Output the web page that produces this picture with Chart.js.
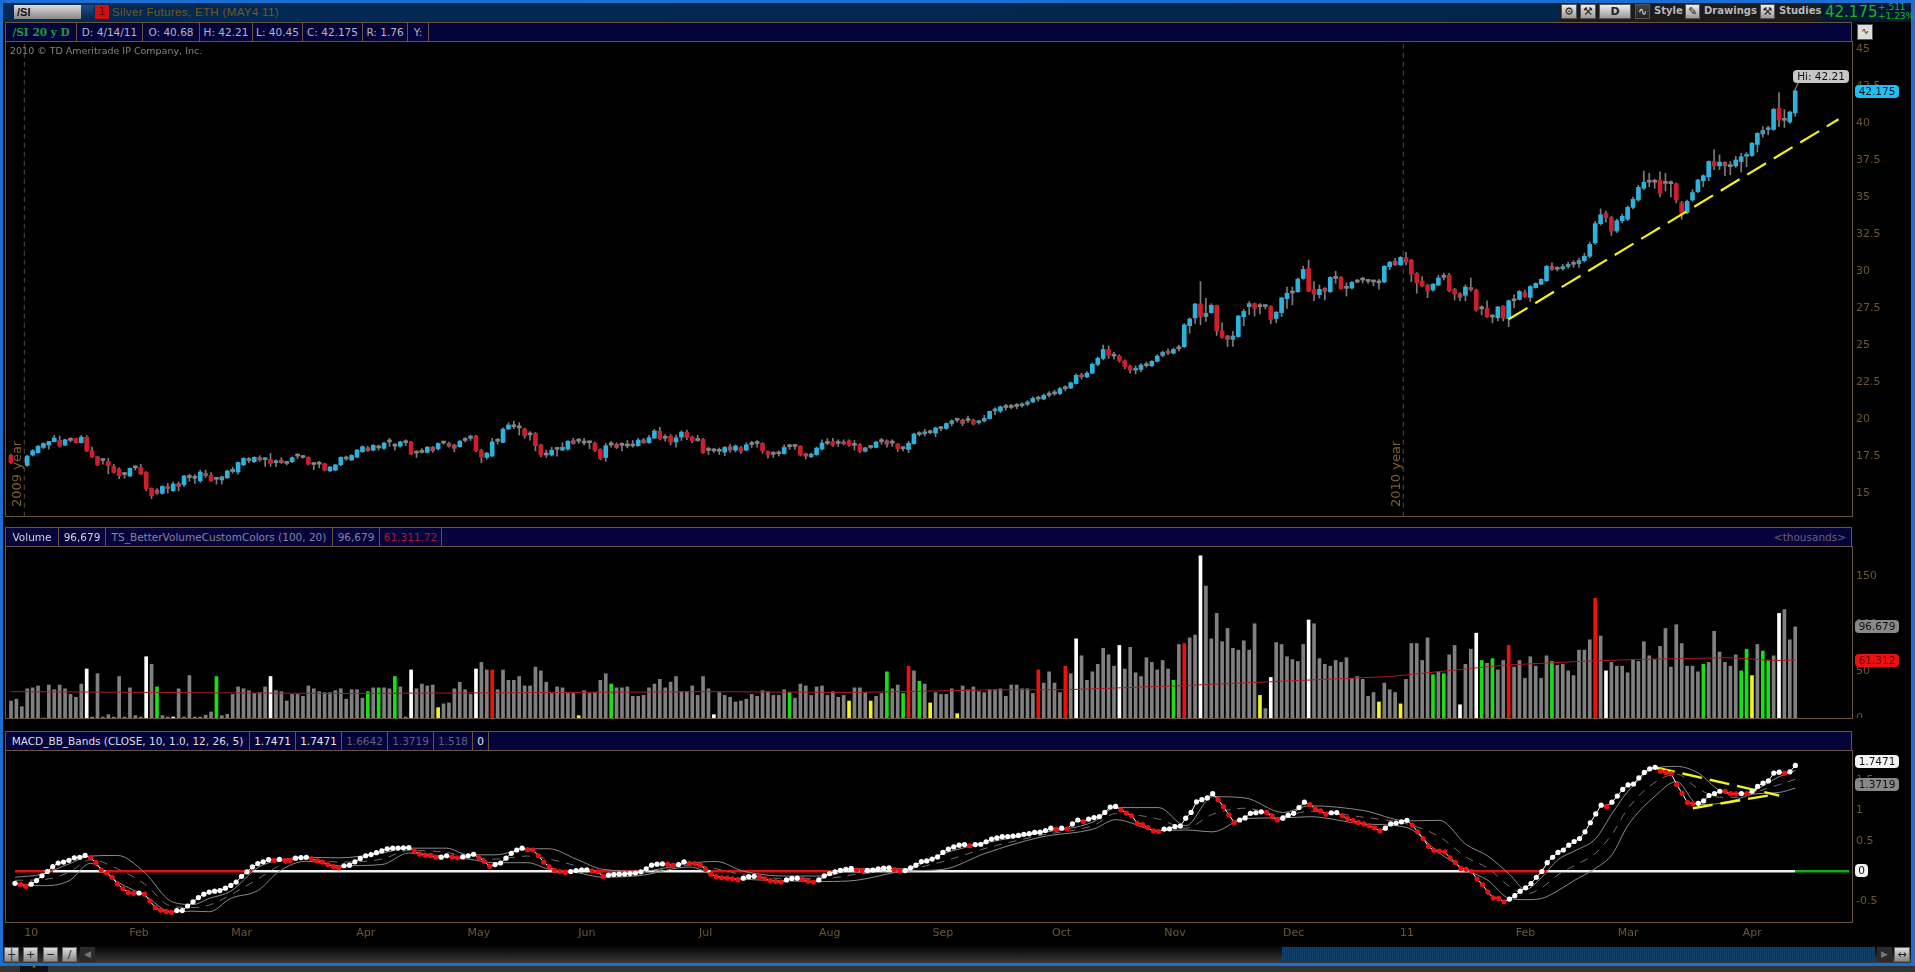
<!DOCTYPE html>
<html>
<head>
<meta charset="utf-8">
<title>/SI 20 y D</title>
<script src="https://cdn.jsdelivr.net/npm/chart.js@4/dist/chart.umd.min.js"></script>
<style>
html,body{margin:0;padding:0;background:#000;width:1915px;height:972px;overflow:hidden;font-family:"DejaVu Sans",sans-serif}
.abs{position:absolute}
canvas{position:absolute;display:block}
.frame{position:absolute;box-sizing:border-box;border:1px solid #6a5440;pointer-events:none}
.hdr{position:absolute;left:5px;width:1847px;height:20px;box-sizing:border-box;background:#04043a;border:1px solid #6a5440;display:flex;font-size:10.5px;line-height:18px;color:#b4b4c4;white-space:nowrap}
.hdr span{display:block;box-sizing:border-box;height:18px;border-right:1px solid #6a5440;text-align:center;overflow:hidden}
.bub{position:absolute;height:13px;line-height:13px;border-radius:4px;font-size:10.5px;text-align:center;color:#111}
.tb{position:absolute;top:4px;height:15px;box-sizing:border-box;border:1px solid #555;background:linear-gradient(#eee,#999);color:#222;text-align:center;font-size:11px;line-height:13px}
.tt{position:absolute;top:4px;font-size:10px;font-weight:bold;color:#b8b8b8;line-height:14px}
.bb{position:absolute;top:947px;width:15px;height:15px;box-sizing:border-box;border:1px solid #666;background:linear-gradient(#ddd,#888);color:#222;font-size:11px;line-height:13px;text-align:center}
</style>
</head>
<body>
<!-- window frame -->
<div class="abs" style="left:0;top:0;width:1915px;height:3px;background:#1b6fd2"></div>
<div class="abs" style="left:0;top:0;width:3px;height:966px;background:#1b6fd2"></div>
<div class="abs" style="left:1911px;top:0;width:4px;height:966px;background:#1b6fd2"></div>
<div class="abs" style="left:3px;top:3px;width:1908px;height:19px;background:linear-gradient(90deg,#032a55,#03254a 80%,#02172e)"></div>

<!-- top bar -->
<div class="abs" style="left:14px;top:5px;width:67px;height:14px;background:linear-gradient(#ddd,#888);color:#111;font:bold 11px/14px 'Liberation Sans';padding-left:3px;box-sizing:border-box">/SI</div>
<div class="abs" style="left:81px;top:5px;width:13px;height:14px;background:linear-gradient(#1a4f90,#0a2448)"></div>
<div class="abs" style="left:95px;top:5px;width:14px;height:14px;background:#d01010;color:#600;font:11px/14px 'DejaVu Sans';text-align:center">1</div>
<div class="abs" style="left:112px;top:5px;color:#6e5a20;font:11.5px/15px 'Liberation Sans';letter-spacing:.35px">Silver Futures, ETH (MAY4 11)</div>

<div class="abs" style="left:1559px;top:3px;width:262px;height:18px;background:#1c1c1e"></div>
<div class="tb" style="left:1561px;width:16px">&#9881;</div>
<div class="tb" style="left:1580px;width:16px">&#9874;</div>
<div class="tb" style="left:1599px;width:32px;font-weight:bold">D</div>
<div class="tb" style="left:1635px;width:15px;background:linear-gradient(#444,#222);color:#ddd">&#8767;</div>
<div class="tt" style="left:1654px">Style</div>
<div class="tb" style="left:1685px;width:15px">&#9998;</div>
<div class="tt" style="left:1704px">Drawings</div>
<div class="tb" style="left:1760px;width:15px">&#9874;</div>
<div class="tt" style="left:1779px">Studies</div>
<div class="abs" style="left:1825px;top:3px;color:#1fb32a;font:15px/18px 'DejaVu Sans'">42.175</div>
<div class="abs" style="left:1878px;top:3px;color:#1fb32a;font:9px/9px 'DejaVu Sans'">+.511<br>+1.23%</div>
<div class="tb" style="left:1857px;top:24px;width:16px;height:16px;background:#ddd;font-size:9px">&#8767;</div>

<!-- price panel -->
<div class="hdr" style="top:22px">
  <span style="width:71px;color:#1f9a3c;font:bold 10.5px/18px 'DejaVu Serif'">/SI 20 y D</span>
  <span style="width:66px">D: 4/14/11</span>
  <span style="width:57px">O: 40.68</span>
  <span style="width:53px">H: 42.21</span>
  <span style="width:50px">L: 40.45</span>
  <span style="width:60px">C: 42.175</span>
  <span style="width:45px">R: 1.76</span>
  <span style="width:21px">Y:</span>
</div>
<div class="frame" style="left:5px;top:41px;width:1848px;height:476px"></div>
<canvas id="priceChart" width="1902" height="475" style="left:5px;top:41px"></canvas>
<div class="abs" style="left:10px;top:44px;color:#848484;font-size:9.5px;line-height:13px">2010 &copy; TD Ameritrade IP Company, Inc.</div>
<div class="abs" style="left:17px;top:475px;color:#7d5e30;font-size:13px;line-height:14px;width:64px;text-align:center;transform:translate(-50%,-50%) rotate(-90deg);white-space:nowrap">2009 year</div>
<div class="abs" style="left:1396px;top:475px;color:#7d5e30;font-size:13px;line-height:14px;width:64px;text-align:center;transform:translate(-50%,-50%) rotate(-90deg);white-space:nowrap">2010 year</div>
<div class="bub" style="left:1793px;top:70px;width:56px;background:#c6c6c6">Hi: 42.21</div>
<div class="abs" style="left:1796px;top:82px;width:1px;height:9px;background:#999;transform:rotate(25deg)"></div>
<div class="bub" style="left:1855px;top:85px;width:44px;background:#1cc0f4">42.175</div>

<!-- volume panel -->
<div class="hdr" style="top:527px">
  <span style="width:53px;color:#d4d4dc">Volume</span>
  <span style="width:47px;color:#d4d4dc">96,679</span>
  <span style="width:227px;color:#85859a">TS_BetterVolumeCustomColors (100, 20)</span>
  <span style="width:47px;color:#85859a">96,679</span>
  <span style="width:62px;color:#b01826">61,311.72</span>
  <em style="margin-left:auto;margin-right:5px;font-style:normal;color:#6e6070">&lt;thousands&gt;</em>
</div>
<div class="frame" style="left:5px;top:546px;width:1848px;height:173px"></div>
<canvas id="volumeChart" width="1902" height="172" style="left:5px;top:546px"></canvas>
<div class="bub" style="left:1855px;top:620px;width:44px;background:#888">96.679</div>
<div class="bub" style="left:1855px;top:654px;width:44px;background:#ee1010;color:#600">61.312</div>

<!-- MACD panel -->
<div class="hdr" style="top:731px">
  <span style="width:244px;color:#dcdce4">MACD_BB_Bands (CLOSE, 10, 1.0, 12, 26, 5)</span>
  <span style="width:46px;color:#e8e8e8">1.7471</span>
  <span style="width:46px;color:#e8e8e8">1.7471</span>
  <span style="width:46px;color:#5f5f80">1.6642</span>
  <span style="width:46px;color:#5f5f80">1.3719</span>
  <span style="width:39px;color:#5f5f80">1.518</span>
  <span style="width:16px;color:#e8e8e8">0</span>
</div>
<div class="frame" style="left:5px;top:750px;width:1848px;height:173px"></div>
<canvas id="macdChart" width="1902" height="195" style="left:5px;top:750px"></canvas>
<div class="bub" style="left:1855px;top:755px;width:44px;background:#f4f4f4">1.7471</div>
<div class="bub" style="left:1855px;top:778px;width:44px;background:#888">1.3719</div>
<div class="bub" style="left:1855px;top:864px;width:13px;background:#f4f4f4">0</div>

<!-- bottom bar -->
<div class="abs" style="left:3px;top:945px;width:1908px;height:18px;background:linear-gradient(#000,#3a3a3a)"></div>
<div class="abs" style="left:0;top:963px;width:1915px;height:3px;background:#1b6fd2"></div>
<div class="abs" style="left:0;top:966px;width:1915px;height:6px;background:#333"></div>
<div class="abs" style="left:20px;top:966px;width:28px;height:6px;background:#111;color:#d8c030;font:7px/6px 'DejaVu Sans';text-align:center">&#8963;</div>
<div class="bb" style="left:4px">&#9532;</div>
<div class="bb" style="left:23px">+</div>
<div class="bb" style="left:43px">&minus;</div>
<div class="bb" style="left:62px">&#8725;</div>
<div class="abs" style="left:80px;top:947px;width:15px;height:15px;background:#2a2a2a;color:#777;font:9px/15px 'DejaVu Sans';text-align:center">&#9664;</div>
<div class="abs" style="left:1282px;top:947px;width:593px;height:15px;background:repeating-linear-gradient(90deg,#14426c 0 1px,#0e3357 1px 2px)"></div>
<div class="abs" style="left:1877px;top:947px;width:15px;height:15px;background:#2a2a2a;color:#777;font:9px/15px 'DejaVu Sans';text-align:center">&#9654;</div>
<div class="bb" style="left:1894px;width:16px">&#8596;</div>

<script>
// price candles, one per trading day, null where no bar shows
const opens = [
17.55,null,null,16.87,17.57,17.73,18.08,18.24,18.47,18.56,
18.24,18.56,18.69,18.4,18.78,17.86,17.45,17.25,17.14,16.8,
16.62,16.3,16.15,16.7,16.73,16.4,15.32,15.2,14.98,15.42,
15.16,15.63,15.56,16.1,16.05,15.83,16.33,16.2,15.98,15.88,
16.04,16.45,16.42,16.91,17.2,17.12,17.41,17.25,17.27,17.05,
17.23,17.05,17.12,17.5,17.4,17.41,16.98,16.95,16.98,16.5,
16.55,16.91,17.3,17.23,17.43,17.79,18.06,17.9,18.05,18.02,
18.45,18.2,18.17,18.45,18.45,17.75,17.75,17.75,18.1,17.99,
18.38,18.35,18.24,18.13,18.55,18.7,18.85,17.86,17.41,17.5,
18.5,18.42,19.33,19.48,19.45,19.32,19.0,19.03,18.27,17.62,
17.57,17.95,17.9,17.97,18.55,18.5,18.42,18.4,18.38,17.95,
17.4,18.25,18.3,18.22,18.25,18.18,18.2,18.6,18.4,18.72,
19.19,18.75,18.85,18.45,18.78,19.1,18.78,18.62,18.62,17.95,
17.85,17.87,17.77,18.13,17.9,18.08,17.9,18.33,18.35,18.36,
17.82,17.68,17.65,17.66,18.13,18.15,18.17,17.66,17.45,17.59,
17.97,18.42,18.47,18.35,18.45,18.53,18.28,18.3,17.82,18.08,
18.08,18.52,18.53,18.42,18.3,18.05,17.95,18.33,18.95,19.0,
19.08,19.05,19.35,19.37,19.7,19.92,19.93,19.9,19.93,19.75,
19.87,20.03,20.55,20.54,20.78,20.78,20.85,20.9,21.0,21.15,
21.4,21.35,21.6,21.75,21.72,22.05,22.1,22.4,22.95,22.85,
23.1,23.7,24.1,24.7,24.3,24.25,23.95,23.55,23.3,23.35,
23.65,23.6,23.9,24.3,24.55,24.45,24.75,24.89,26.31,26.84,
27.77,26.92,27.19,27.68,25.96,25.61,25.38,25.57,26.91,27.59,
27.8,27.63,27.6,27.6,26.79,27.19,28.13,28.51,28.6,29.5,
30.18,28.76,28.4,28.83,28.6,29.57,29.59,28.87,28.85,29.25,
29.44,29.3,29.3,29.25,29.26,30.29,30.65,30.42,30.92,30.74,
29.84,29.32,29.05,28.72,29.05,29.57,29.72,28.76,28.45,28.36,
28.89,28.71,27.49,27.47,26.94,26.84,27.62,26.78,27.99,28.08,
28.54,28.22,28.88,29.11,29.34,30.32,30.12,30.15,30.3,30.45,
30.5,30.7,31.0,31.9,33.2,33.9,33.6,32.7,33.4,33.5,
34.3,34.8,35.6,36.0,36.05,36.15,35.92,35.95,35.9,34.6,
33.95,34.8,35.36,36.1,36.37,37.4,37.1,37.34,37.05,37.1,
37.4,37.75,37.8,38.55,39.26,39.55,39.57,41.0,40.25,40.07,
40.68];
const closes = [
17.05,null,null,17.5,17.86,18.17,18.35,18.49,18.72,18.17,
18.6,18.63,18.4,18.78,17.84,17.43,16.91,17.2,16.85,16.4,
16.17,16.25,16.67,16.72,16.3,15.29,14.82,14.98,15.45,15.3,
15.61,15.45,16.15,16.05,16.0,16.42,16.17,15.83,15.93,16.1,
16.49,16.6,17.07,17.34,17.25,17.41,17.23,17.35,17.0,17.15,
17.05,17.0,17.39,17.55,17.45,16.96,16.93,17.0,16.55,16.76,
16.9,17.41,17.35,17.54,17.9,18.13,17.86,18.22,18.13,18.38,
18.5,18.17,18.45,18.4,17.63,17.7,17.82,18.1,17.86,18.35,
18.42,18.17,18.02,18.51,18.62,18.85,17.86,17.43,17.7,18.45,
18.55,19.32,19.6,19.53,19.4,18.87,18.93,18.2,17.57,17.57,
17.9,18.0,18.1,18.5,18.35,18.58,18.38,18.45,17.9,17.35,
18.2,18.3,18.08,18.27,18.18,18.2,18.58,18.4,18.74,19.19,
18.67,18.7,18.45,18.74,19.12,18.74,18.52,18.55,17.72,17.88,
17.9,17.82,18.08,17.9,18.18,17.82,18.26,18.28,18.4,17.86,
17.57,17.62,17.68,18.08,18.18,18.2,17.57,17.49,17.63,18.04,
18.38,18.35,18.22,18.4,18.33,18.22,18.22,17.82,18.06,18.13,
18.45,18.47,18.31,18.37,18.0,18.0,18.36,18.99,18.99,19.1,
19.13,19.4,19.4,19.7,19.88,19.97,19.7,19.94,19.66,19.85,
20.05,20.52,20.65,20.83,20.83,20.83,20.9,21.0,21.15,21.4,
21.35,21.6,21.75,21.7,22.05,22.1,22.45,22.95,22.85,23.1,
23.7,24.1,24.7,24.3,24.25,23.95,23.55,23.3,23.4,23.65,
23.6,23.9,24.25,24.5,24.45,24.7,24.8,26.36,26.76,27.77,
26.92,27.15,27.68,25.96,25.52,25.38,25.61,26.96,27.27,27.8,
27.48,27.59,27.63,26.73,27.22,28.18,28.5,28.6,29.45,30.11,
28.64,28.45,28.76,28.64,29.57,29.5,28.8,28.83,29.23,29.34,
29.39,29.34,29.26,29.2,30.32,30.6,30.42,30.92,30.6,29.8,
29.2,28.99,28.64,29.11,29.53,29.65,28.67,28.45,28.22,28.92,
28.73,27.36,27.45,26.91,26.89,27.57,26.82,27.99,28.06,28.62,
28.27,28.95,29.16,29.44,30.32,30.11,30.17,30.3,30.45,30.5,
30.7,31.0,31.8,33.2,33.8,33.6,32.7,33.4,33.7,34.3,
34.85,35.65,36.0,36.08,36.0,35.25,35.97,35.9,34.8,33.9,
34.7,35.3,36.15,36.44,37.4,37.1,37.36,37.1,37.12,37.5,
37.72,37.85,38.63,39.3,39.5,39.65,40.92,40.2,40.18,40.74,
42.175];
const highs = [
17.6,null,null,17.55,17.95,18.2,18.4,18.5,18.9,18.85,
18.65,18.75,18.72,18.9,18.88,18.1,17.5,17.3,17.35,16.95,
16.7,16.4,16.7,16.85,16.95,16.45,15.35,15.3,15.5,15.65,
15.75,15.75,16.2,16.28,16.25,16.55,16.55,16.38,16.05,16.15,
16.55,16.75,17.1,17.4,17.4,17.45,17.52,17.4,17.68,17.25,
17.4,17.15,17.45,17.65,17.55,17.45,17.05,17.15,17.02,16.8,
16.95,17.45,17.5,17.6,17.95,18.2,18.15,18.28,18.25,18.45,
18.7,18.35,18.5,18.6,18.5,17.85,18.0,18.15,18.15,18.4,
18.5,18.45,18.3,18.55,18.75,18.92,18.9,17.95,17.75,18.7,
18.7,19.4,19.75,19.85,19.75,19.4,19.15,19.1,18.3,17.9,
18.1,18.05,18.4,18.55,18.7,18.7,18.7,18.5,18.45,18.0,
18.35,18.5,18.4,18.4,18.55,18.55,18.7,18.7,18.9,19.3,
19.45,18.95,18.95,18.92,19.2,19.25,18.85,18.9,18.7,18.1,
18.0,18.05,18.15,18.3,18.25,18.15,18.4,18.5,18.55,18.4,
17.85,17.8,17.85,18.25,18.3,18.3,18.2,17.7,17.7,18.1,
18.6,18.68,18.7,18.6,18.6,18.6,18.55,18.35,18.1,18.2,
18.5,18.7,18.6,18.6,18.35,18.1,18.5,19.05,19.15,19.3,
19.25,19.45,19.5,19.75,19.95,20.05,20.0,20.2,20.0,19.9,
20.25,20.55,20.75,20.88,21.0,21.0,21.05,21.1,21.25,21.5,
21.55,21.7,21.85,21.95,22.15,22.25,22.5,23.05,23.1,23.2,
23.8,24.2,25.0,24.95,24.5,24.35,24.0,23.65,23.6,23.75,
23.85,23.95,24.35,24.6,24.75,24.8,25.0,26.45,26.83,27.81,
29.29,28.16,27.8,27.7,26.5,25.66,25.93,27.0,27.41,27.94,
27.84,27.8,27.7,27.65,27.26,28.23,28.92,28.92,29.53,30.33,
30.74,29.28,29.06,28.88,29.62,29.99,29.62,29.2,29.3,29.44,
29.58,29.44,29.39,29.44,30.37,30.65,30.85,30.98,31.26,30.79,
29.9,29.62,29.11,29.16,29.72,29.85,29.85,28.83,28.55,29.06,
29.53,28.78,27.66,27.99,27.05,27.62,27.66,28.04,28.41,28.69,
28.72,29.02,29.21,29.49,30.37,30.55,30.28,30.45,30.6,30.7,
30.85,31.2,31.95,33.35,34.2,34.05,33.7,33.5,33.85,34.4,
35.0,35.8,36.75,36.6,36.2,36.7,36.6,36.1,35.95,34.7,
34.8,35.5,36.2,36.5,37.45,38.2,37.85,37.4,37.4,37.75,
37.95,38.0,38.7,39.35,39.75,39.78,41.0,42.05,40.9,40.8,
42.21];
const lows = [
17.0,null,null,16.8,17.5,17.7,18.0,17.97,18.45,18.1,
18.2,18.45,18.38,18.38,17.8,17.4,16.85,16.95,16.3,16.35,
15.97,16.0,16.1,16.55,16.25,15.15,14.62,14.9,14.92,15.0,
15.1,15.15,15.43,15.8,15.65,15.72,16.05,15.78,15.6,15.6,
15.97,16.35,16.28,16.85,17.05,17.05,17.15,16.8,16.8,16.78,
17.0,16.9,17.05,17.33,17.35,16.9,16.58,16.7,16.5,16.45,
16.5,16.85,17.2,17.2,17.38,17.75,17.82,17.85,17.9,17.95,
18.15,17.9,18.1,18.2,17.6,17.4,17.7,17.7,17.75,17.9,
18.3,18.1,17.8,18.1,18.45,18.55,17.8,17.05,17.28,17.45,
18.3,18.4,19.3,19.35,18.92,18.7,18.58,17.85,17.45,17.4,
17.5,17.5,17.85,17.9,18.3,18.35,18.25,18.0,17.8,17.25,
17.15,18.1,18.0,17.85,18.05,18.1,18.15,18.35,18.35,18.65,
18.6,18.5,18.25,18.1,18.55,18.6,18.4,18.5,17.68,17.6,
17.75,17.6,17.52,17.75,17.78,17.68,17.85,18.08,18.1,17.68,
17.35,17.4,17.5,17.62,17.95,17.95,17.5,17.3,17.4,17.55,
17.9,18.25,18.15,18.15,18.25,18.15,17.9,17.72,17.78,18.0,
18.05,18.3,18.1,18.15,17.8,17.85,17.72,18.3,18.85,18.85,
19.0,18.8,19.2,19.3,19.55,19.8,19.55,19.75,19.6,19.65,
19.8,20.0,20.3,20.42,20.6,20.7,20.7,20.8,20.9,21.1,
21.2,21.3,21.5,21.6,21.65,21.9,22.05,22.35,22.7,22.8,
23.05,23.6,24.0,24.1,24.05,23.85,23.4,23.1,23.05,23.2,
23.5,23.55,23.85,24.2,24.35,24.4,24.6,24.82,25.8,26.46,
26.36,26.59,27.15,25.65,25.47,24.9,24.9,25.52,26.31,27.05,
26.96,27.1,27.43,26.45,26.5,26.92,27.47,27.71,28.55,29.44,
28.59,27.99,28.17,28.04,28.55,29.17,28.78,28.31,28.78,29.2,
29.18,29.16,29.0,28.78,29.2,30.09,30.37,30.37,30.42,29.27,
28.5,28.92,28.2,28.64,29.0,29.39,28.59,28.04,27.99,27.99,
28.64,27.29,27.03,26.86,26.5,26.63,26.63,26.24,27.53,28.04,
28.22,27.94,28.84,29.07,29.3,30.04,30.0,30.05,30.2,30.25,
30.25,30.6,30.9,31.8,33.1,33.3,32.4,32.6,33.25,33.4,
34.2,34.7,35.5,35.7,35.6,35.0,35.4,35.0,34.6,33.5,
33.85,34.7,35.3,35.7,36.1,36.85,36.85,36.45,36.5,37.0,
36.7,37.05,37.75,38.05,39.05,39.2,39.5,39.75,39.7,39.98,
40.45];
const priceTicks = [15,17.5,20,22.5,25,27.5,30,32.5,35,37.5,40,42.5,45];

// trend line and year separators on the price panel
const trendDays = [277,338];
const trendPrices = [26.74,40.25];
const yearDays = [2.46,257.5];

// volume, thousands
const volumes = [
18,20,12,31,32,34,0,35,30,35,
31,25,22,36,52,1,47,1,3.5,1,
44,1,32,2.5,1,65,57,33,2.5,1,
1,31,1,45,1,1,3,6.4,44,2.5,
4,25,33,31,29,26,27,33,44,29,
28,18,25,25,23,34,31,28,27,27,
29,31,20,30,30,21,28,32,32,32,
31,44,33,1,51,31,36,34,35,11,
15,16,31,38,30,25,52,59,51,51,
30,51,40,40,44,34,34,54,50,38,
26,33,32,26,26,2.5,29,26,27,40,
47,36,32,32,33,23,23,24,32,36,
41,32,38,44,28,28,34,24,44,31,
3.5,27,24,22,17,18,20,25,23,29,
28,24,24,30,27,21,36,34,24,33,
34,24,28,22,24,18,32,32,27,18,
23,26,49,31,35,26,55,50,39,36,
16,27,25,25,31,4.6,34,30,33,28,
27,30,30,31,23,35,35,31,31,26,
51,37,49,37,27,55,47,84,66,40,
49,57,74,67,55,77,52,75,48,44,
64,59,51,61,52,40,78,79,85,88,
172,140,84,111,81,95,74,72,82,72,
100,24,10,43,80,78,65,62,60,78,
104,100,63,57,55,61,59,64,42,44,
41,23,27,17,37,30,27,15,41,79,
79,61,85,46,49,47,67,77,14,57,
73,90,61,58,63,51,61,77,54,61,
42,65,55,42,66,60,56,57,50,45,
72,72,83,127,87,50,59,55,55,48,
62,60,81,66,62,76,95,54,99,79,
55,55,49,57,59,92,70,59,55,67,
50,73,45,78,71,61,66,111,115,83,
96.679];
const volumeTicks = [0,50,100,150];
const avgVolumeDays = [0,30,60,100,130,155,183,195,215,235,255,262,276,290,300,318,326,330];
const avgVolumes = [28,27,26,27,28,27,30,30,34,39,44,48,56,60,62,64,61,61.312];
const whiteDays = [14,25,30,48,74,86,130,197,205,220,233,240,268,271,295,327];
const redDays = [89,166,190,195,217,277,293];
const greenDays = [27,38,66,68,71,111,144,162,165,168,215,263,265,272,274,285,313,320,321,324,325];
const yellowDays = [79,105,155,159,170,175,231,253,257,322];

// MACD value per day
const macd = [
-0.2,-0.22,-0.25,-0.215,-0.155,-0.075,-0.005,0.075,0.135,0.15,
0.18,0.22,0.23,0.26,0.22,0.14,0.02,-0.03,-0.1,-0.21,
-0.29,-0.35,-0.365,-0.36,-0.38,-0.49,-0.6,-0.645,-0.665,-0.68,
-0.65,-0.65,-0.575,-0.505,-0.435,-0.38,-0.345,-0.33,-0.32,-0.28,
-0.235,-0.18,-0.085,-0.01,0.07,0.125,0.155,0.19,0.18,0.195,
0.18,0.178,0.215,0.225,0.23,0.205,0.17,0.15,0.11,0.075,
0.055,0.09,0.10,0.155,0.21,0.255,0.275,0.305,0.335,0.37,
0.38,0.382,0.385,0.39,0.335,0.285,0.265,0.26,0.23,0.232,
0.255,0.235,0.22,0.235,0.255,0.28,0.22,0.16,0.08,0.11,
0.135,0.215,0.295,0.35,0.38,0.355,0.35,0.255,0.15,0.075,
0.015,-0.005,-0.02,-0.005,0.01,0.02,0.022,0.005,-0.01,-0.085,
-0.065,-0.055,-0.05,-0.048,-0.04,-0.03,-0.01,0.04,0.1,0.115,
0.12,0.115,0.1,0.11,0.155,0.13,0.125,0.1,0.03,-0.05,
-0.09,-0.11,-0.115,-0.125,-0.14,-0.115,-0.09,-0.085,-0.095,-0.125,
-0.155,-0.17,-0.18,-0.145,-0.12,-0.115,-0.135,-0.165,-0.18,-0.145,
-0.075,-0.04,-0.01,0.015,0.03,0.045,0.02,0.01,0.012,0.02,
0.04,0.05,0.055,0.025,0.005,0.01,0.055,0.1,0.16,0.17,
0.2,0.235,0.31,0.365,0.4,0.43,0.44,0.42,0.44,0.445,
0.485,0.53,0.55,0.57,0.572,0.58,0.59,0.61,0.62,0.64,
0.645,0.67,0.71,0.69,0.71,0.7,0.78,0.845,0.82,0.86,
0.885,0.9,0.97,1.06,1.07,1.01,0.96,0.915,0.795,0.77,
0.72,0.665,0.655,0.695,0.7,0.735,0.745,0.875,0.97,1.145,
1.18,1.21,1.28,1.18,1.065,0.93,0.805,0.845,0.88,0.955,
0.965,0.98,0.97,0.9,0.845,0.875,0.925,0.955,1.05,1.14,
1.1,1.03,0.995,0.94,0.965,0.967,0.915,0.87,0.835,0.805,
0.78,0.75,0.715,0.665,0.71,0.78,0.795,0.815,0.84,0.76,
0.65,0.54,0.41,0.345,0.33,0.32,0.22,0.14,0.045,0.03,
-0.005,-0.13,-0.225,-0.345,-0.44,-0.45,-0.505,-0.46,-0.405,-0.33,
-0.275,-0.205,-0.1,-0.005,0.14,0.23,0.31,0.35,0.43,0.49,
0.54,0.65,0.8,0.945,1.09,1.07,1.14,1.24,1.35,1.425,
1.44,1.54,1.63,1.69,1.715,1.65,1.63,1.61,1.43,1.285,
1.135,1.11,1.12,1.16,1.25,1.28,1.32,1.318,1.28,1.279,
1.281,1.28,1.32,1.4,1.455,1.49,1.62,1.635,1.62,1.64,
1.7471];
const macdTicks = [-0.5,0,0.5,1,1.5];

// bollinger bands round MACD, read at these days
const bandDays = [0,5,10,14,19,24,29,33,36,40,45,49,54,60,68,73,80,84,89,95,99,104,109,116,125,130,135,143,150,156,165,172,180,190,200,204,212,217,222,228,235,240,250,258,264,269,273,277,280,283,286,289,293,296,299,304,308,312,316,319,322,327,330];
const bandUpper = [-0.10,-0.05,0.12,0.25,0.26,-0.02,-0.50,-0.55,-0.45,-0.33,0.06,0.18,0.23,0.22,0.30,0.38,0.38,0.27,0.27,0.37,0.37,0.20,0.03,0.00,0.13,0.16,0.00,-0.08,-0.08,0.04,0.04,0.29,0.47,0.63,0.82,1.05,1.05,0.75,1.23,1.21,0.97,1.08,1.00,0.83,0.84,0.44,0.25,-0.05,-0.30,-0.10,0.19,0.33,0.54,0.95,1.32,1.70,1.73,1.62,1.33,1.27,1.32,1.56,1.6642];
const bandLower = [-0.20,-0.24,-0.16,0.13,-0.18,-0.40,-0.67,-0.66,-0.67,-0.45,-0.32,0.00,0.165,0.09,0.11,0.30,0.24,0.20,0.14,0.14,0.03,-0.02,-0.10,-0.07,0.07,-0.08,-0.13,-0.16,-0.17,-0.15,0.00,0.03,0.30,0.56,0.70,0.85,0.67,0.68,0.65,0.87,0.88,0.90,0.78,0.72,0.30,0.02,-0.15,-0.45,-0.47,-0.45,-0.32,-0.155,0.05,0.27,0.76,1.24,1.48,1.10,1.12,1.18,1.27,1.30,1.3719];
const bandMean = [-0.15,-0.14,-0.02,0.19,0.04,-0.21,-0.58,-0.60,-0.56,-0.39,-0.13,0.09,0.20,0.15,0.20,0.34,0.31,0.23,0.20,0.25,0.20,0.09,-0.03,-0.03,0.10,0.04,-0.06,-0.12,-0.12,-0.05,0.02,0.16,0.38,0.59,0.76,0.95,0.86,0.71,0.94,1.04,0.92,0.99,0.89,0.78,0.57,0.23,0.05,-0.25,-0.38,-0.27,-0.06,0.09,0.30,0.61,1.04,1.47,1.60,1.36,1.22,1.22,1.29,1.43,1.518];
const macdTrendUpperDays = [304,327];
const macdTrendUpper = [1.715,1.25];
const macdTrendLowerDays = [311,325];
const macdTrendLower = [1.04,1.25];

// month labels under the last panel
const monthDays = [3,23,42,65,86,106,128,151,172,194,215,237,258,280,299,322];
const monthLabels = ["10","Feb","Mar","Apr","May","Jun","Jul","Aug","Sep","Oct","Nov","Dec","11","Feb","Mar","Apr"];

const xMin = -1.11;
const xMax = 340.5;
const futureDays = 10;

const axisColor = "#6e5535";
const upColor = "#2db2de";
const downColor = "#cc1f2c";
const upDimColor = "#4d9aab";
const downDimColor = "#a84a55";
const dojiColor = "#858585";

Chart.defaults.font.family = "'DejaVu Sans', sans-serif";
Chart.defaults.font.size = 11;
Chart.defaults.animation = false;
Chart.defaults.devicePixelRatio = 1;

function pairs(days, values) {
  return values.map((v, i) => ({ x: days ? days[i] : i, y: v }));
}

function fixedY(ticks, min, max) {
  return {
    type: "linear",
    position: "right",
    min: min,
    max: max,
    grid: { display: false, drawTicks: false },
    border: { display: false },
    ticks: { color: axisColor, padding: 4, autoSkip: false, callback: v => String(v) },
    afterBuildTicks: s => { s.ticks = ticks.map(v => ({ value: v })); },
    afterFit: s => { s.width = 55; s.paddingTop = 0; s.paddingBottom = 0; },
  };
}

function hiddenX() {
  return { type: "linear", display: false, offset: false, min: xMin, max: xMax, grid: { display: false, offset: false } };
}

const commonOptions = {
  responsive: false,
  maintainAspectRatio: false,
  layout: { padding: 0 },
  plugins: { legend: { display: false }, tooltip: { enabled: false } },
  events: [],
};

// price panel, thin bodies come out washed in the reference
const bodyColors = opens.map((o, i) => {
  if (o === null) return dojiColor;
  const move = closes[i] - o;
  if (Math.abs(move) < 0.09) return dojiColor;
  if (Math.abs(move) < 0.25) return move > 0 ? upDimColor : downDimColor;
  return move > 0 ? upColor : downColor;
});

new Chart(document.getElementById("priceChart"), {
  type: "bar",
  data: {
    datasets: [
      {
        type: "line",
        data: pairs(trendDays, trendPrices),
        borderColor: "#f2f21e",
        borderWidth: 2.2,
        borderDash: [22, 9],
        pointRadius: 0,
        order: 0,
      },
      {
        data: opens.map((o, i) => ({ x: i, y: o === null ? null : [o, closes[i]] })),
        backgroundColor: bodyColors,
        barThickness: 4,
        minBarLength: 2,
        grouped: false,
        order: 1,
      },
      {
        data: highs.map((h, i) => ({ x: i, y: h === null ? null : [lows[i], h] })),
        backgroundColor: "#7c7c7c",
        barThickness: 1,
        grouped: false,
        order: 2,
      },
      {
        type: "line",
        data: [{ x: yearDays[0], y: 13.4 }, { x: yearDays[0], y: 45.6 }],
        borderColor: "#5c4a38",
        borderWidth: 1,
        borderDash: [5, 4],
        pointRadius: 0,
        order: 3,
      },
      {
        type: "line",
        data: [{ x: yearDays[1], y: 13.4 }, { x: yearDays[1], y: 45.6 }],
        borderColor: "#5c4a38",
        borderWidth: 1,
        borderDash: [5, 4],
        pointRadius: 0,
        order: 3,
      },
    ],
  },
  options: {
    ...commonOptions,
    scales: { x: hiddenX(), y: fixedY(priceTicks, 13.45, 45.54) },
  },
});

// volume panel
const volumeColors = volumes.map((v, i) => {
  if (whiteDays.includes(i)) return "#ffffff";
  if (redDays.includes(i)) return "#ee1010";
  if (greenDays.includes(i)) return "#18e018";
  if (yellowDays.includes(i)) return "#f4f41a";
  return "#808080";
});

new Chart(document.getElementById("volumeChart"), {
  type: "bar",
  data: {
    datasets: [
      {
        type: "line",
        data: pairs(avgVolumeDays, avgVolumes),
        borderColor: "#a81a22",
        borderWidth: 1,
        pointRadius: 0,
        order: 0,
      },
      {
        data: pairs(null, volumes),
        backgroundColor: volumeColors,
        barThickness: 3,
        grouped: false,
        order: 1,
      },
    ],
  },
  options: {
    ...commonOptions,
    scales: { x: hiddenX(), y: fixedY(volumeTicks, 0, 182.5) },
  },
});

// MACD panel
const dotColors = macd.map((v, i) => (i > 0 && v < macd[i - 1] ? "#ee1010" : "#ffffff"));
const zeroLine = macd.concat(new Array(futureDays).fill(null)).map((v, i) => ({ x: i, y: 0 }));

new Chart(document.getElementById("macdChart"), {
  type: "line",
  data: {
    datasets: [
      {
        data: pairs(null, macd),
        borderColor: "#ffffff",
        borderWidth: 1,
        pointRadius: 2.6,
        pointBorderWidth: 0,
        pointBackgroundColor: dotColors,
        order: 0,
      },
      {
        data: pairs(macdTrendUpperDays, macdTrendUpper),
        borderColor: "#f2f21e",
        borderWidth: 2.4,
        borderDash: [20, 8],
        pointRadius: 0,
        order: 1,
      },
      {
        data: pairs(macdTrendLowerDays, macdTrendLower),
        borderColor: "#f2f21e",
        borderWidth: 2.4,
        borderDash: [20, 8],
        pointRadius: 0,
        order: 1,
      },
      {
        data: pairs(bandDays, bandUpper),
        borderColor: "#8a8a8a",
        borderWidth: 1,
        pointRadius: 0,
        cubicInterpolationMode: "monotone",
        order: 2,
      },
      {
        data: pairs(bandDays, bandLower),
        borderColor: "#8a8a8a",
        borderWidth: 1,
        pointRadius: 0,
        cubicInterpolationMode: "monotone",
        order: 2,
      },
      {
        data: pairs(bandDays, bandMean),
        borderColor: "#6e6e6e",
        borderWidth: 1,
        borderDash: [8, 7],
        pointRadius: 0,
        cubicInterpolationMode: "monotone",
        order: 2,
      },
      {
        data: zeroLine,
        borderWidth: 2.4,
        pointRadius: 0,
        borderColor: "#ffffff",
        segment: {
          borderColor: c => {
            const i = c.p0DataIndex;
            if (i >= macd.length - 1) return "#10b010";
            return macd[i] < 0 ? "#e01010" : "#f0f0f0";
          },
        },
        order: 3,
      },
    ],
  },
  options: {
    ...commonOptions,
    scales: {
      x: {
        type: "linear",
        min: xMin,
        max: xMax,
        grid: { display: false, drawTicks: false },
        border: { display: false },
        ticks: {
          color: axisColor,
          padding: 5,
          autoSkip: false,
          maxRotation: 0,
          callback: v => monthLabels[monthDays.indexOf(v)],
        },
        afterBuildTicks: s => { s.ticks = monthDays.map(v => ({ value: v })); },
        afterFit: s => { s.height = 23; s.paddingLeft = 0; s.paddingRight = 0; },
      },
      y: fixedY(macdTicks, -0.839, 1.935),
    },
  },
});
</script>
</body>
</html>
